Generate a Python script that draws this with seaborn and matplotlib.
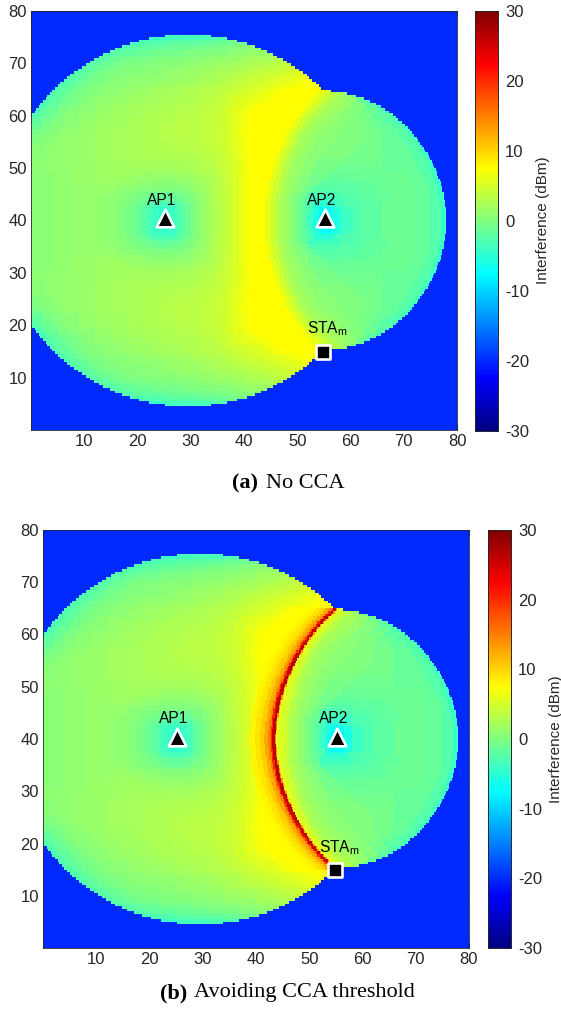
"""Interference maps for the no-CCA and CCA-threshold cases, two stacked heatmaps."""

import numpy as np
import matplotlib
matplotlib.use('Agg')
import matplotlib.pyplot as plt
from matplotlib.colors import LinearSegmentedColormap
import seaborn as sns

sns.set_style('white')
plt.rcParams['font.family'] = ['Liberation Sans', 'DejaVu Sans']
plt.rcParams['mathtext.fontset'] = 'custom'
plt.rcParams['mathtext.rm'] = 'Liberation Sans'

# Levels, one string per row, going away from y=40.
# Every entry is end_x:level in dBm, a level holds until its end_x.
# The map is the same above and below y=40.
ROWS_NO_CCA = [
    "4:0.7 8:1 12:1.2 14:1.1 16:0.8 17.5:0.3 19:-0.3 20:-1 21:-1.7 22:-2.5 23:-3.3 24:-4.2 26:-5 27:-4.2 28:-3.3 29:-2.3 30:-1.2 31:-0.2 32:0.6 33:1.3 34:2 35:2.6 36:3.2 37:3.8 38:4.5 39:5.3 40:6.1 41:6.9 44:7.5 45:6 46:4.5 47:3 48:2 49:1 50:0 51:-1 52:-2.5 53:-4 54:-6 56.5:-8 58:-6 60:-4 62:-3 66:-2 72:-1 75:-1.5 77:-2.5 78:-4",
    "4:0.7 8:1 12:1.2 14:1.1 16:0.8 17.5:0.3 19:-0.3 20:-1 21:-1.7 22:-2.5 23:-3.3 24:-4 26:-4.5 27:-4 28:-3.2 29:-2.2 30:-1.2 31:-0.2 32:0.6 33:1.3 34:2 35:2.6 36:3.2 37:3.8 38:4.5 39:5.3 40:6.1 41:6.9 44:7.5 45:6 46:4.5 47:3 48:2 49:1 50:0 51:-1 52:-2.5 53:-3.5 54:-5.5 56.5:-7 58:-5.5 60:-3.8 62:-3 66:-2 72:-1 75:-1.5 77:-2.5 78:-4",
    "4:0.7 8:1 12:1.2 14:1.1 16:0.8 18:0.3 19.5:-0.3 21:-1 22:-1.8 23:-2.6 27:-3.4 28:-2.7 29:-1.8 30:-1 31:-0.2 32:0.6 33:1.3 34:2 35:2.6 36:3.2 37:3.8 38:4.5 39:5.3 40:6.1 41:6.9 44.1:7.5 45.1:6 46:4.5 47:3 48:2 49:1 50:0 51:-1 52:-2.2 53:-3 57:-5 59:-3.5 62:-2.8 66:-2 72:-1 75:-1.5 77:-2.5 77.9:-4",
    "4:0.7 8:1 12:1.2 14:1.1 16:0.9 18:0.5 20:-0.1 22:-0.8 24:-1.5 26:-2 28:-1.5 29:-0.9 30:-0.3 31:0.3 32:0.9 33:1.5 34:2.1 35:2.7 36:3.3 37:3.8 38:4.5 39:5.3 40:6.1 41:6.9 44.1:7.5 45.1:6 46:4.5 47:3 48:2 49:1 50:0.2 51:-0.8 52:-1.8 58:-3.8 60:-3 63:-2.5 67:-1.8 72:-1 75:-1.5 76.8:-2.5 77.8:-4",
    "4:0.7 8:1 12:1.3 14:1.2 16:1 18:0.7 20:0.2 22:-0.3 24:-0.8 26:-1.2 28:-0.9 30:-0.2 31:0.4 32:1 33:1.6 34:2.2 35:2.8 36:3.3 37:3.8 38:4.5 39:5.3 40:6.1 41:6.9 44.3:7.5 45.3:6 46.3:4.5 47.3:3 48.3:2 49.3:1 50.5:0.3 52:-0.8 58:-3 61:-2.5 64:-2 68:-1.5 72:-1 75:-1.5 76.6:-2.5 77.6:-4",
    "4:0.7 8:1 12:1.3 16:1.2 19:0.9 22:0.4 25:0 28:0 30:0.4 32:1.2 33:1.8 34:2.3 35:2.9 36:3.4 37:3.9 38:4.5 39:5.3 40:6.1 41:6.9 44.4:7.5 45.4:6 46.4:4.5 47.4:3 48.4:2 49.4:1.2 51:0.3 53:-0.8 58:-2.5 62:-2.2 66:-1.7 72:-1 75:-1.5 76.4:-2.5 77.4:-4",
    "4:0.7 8:1 12:1.4 17:1.5 20:1.2 23:0.9 27:0.6 30:0.9 32:1.5 33:2 34:2.5 35:3 36:3.5 37:4 38:4.6 39:5.3 40:6.1 41:6.9 44.6:7.5 45.6:6 46.6:4.5 47.6:3 48.6:2 50:1.2 52:0.3 54:-0.8 59:-2 64:-1.8 68:-1.4 72:-1 74.5:-1.5 76.1:-2.5 77.1:-4",
    "4:0.7 8:1 12:1.5 18:1.7 22:1.4 27:1.1 30:1.3 32:1.8 34:2.4 35:3 36:3.5 37:4 38:4.6 39:5.3 40:6.1 41:6.9 44.9:7.5 45.9:6 46.9:4.5 47.9:3 48.9:2 50.3:1.2 52:0.4 55:-0.6 60:-1.6 66:-1.4 71:-1 74:-1.5 75.8:-2.5 76.8:-4",
    "4:0.7 8:1 12:1.5 15:1.8 18:2 22:1.8 27:1.6 30:1.8 32:2.2 34:2.7 35:3.1 36:3.6 37:4.1 38:4.7 39:5.3 40:6.1 41:6.9 45.2:7.5 46.2:6 47.2:4.5 48.2:3 49.2:2 50.6:1.2 52.5:0.5 56:-0.5 62:-1.2 68:-1.1 71:-1 73.5:-1.5 75.5:-2.5 76.5:-4",
    "3:0.8 6:1 9:1.2 12:1.5 15:1.8 18:2 21:2.1 24:2 27:2 30:2.2 32:2.6 34:3 35:3.4 36:3.8 37:4.2 38:4.7 39:5.3 40:6 41:6.8 45.4:7.5 46.4:6 47.4:4.5 48.4:3 49.5:2 51:1.2 53:0.5 57:-0.4 66:-1 73:-1.5 75.1:-2.5 76.1:-4",
    "3:0.8 6:1 9:1.2 12:1.5 15:1.8 18:2.1 21:2.2 24:2.2 27:2.3 30:2.5 32:2.8 34:3.2 35:3.6 36:4 37:4.4 38:4.9 39:5.5 40:6.2 41:6.9 45.7:7.5 46.7:6 47.7:4.5 48.7:3 49.8:2 51.3:1.2 53.5:0.5 58:-0.3 66:-0.8 72.5:-1.5 74.7:-2.5 75.7:-4",
    "3:0.7 6:1 9:1.3 12:1.6 15:1.9 18:2.2 21:2.4 24:2.5 27:2.6 30:2.8 32:3 34:3.3 35:3.7 36:4.1 37:4.5 38:5 39:5.6 40:6.3 41:7 46.1:7.5 47.1:6 48.1:4.5 49.1:3 50.2:2 51.7:1.3 54:0.6 59:-0.2 66:-0.8 72:-1.5 74.2:-2.5 75.2:-4",
    "3:0.7 6:1 9:1.3 12:1.6 15:1.9 18:2.2 21:2.5 24:2.7 27:2.8 30:3 32:3.2 34:3.5 35:3.8 36:4.2 37:4.6 38:5.1 39:5.7 40:6.4 41:7 46.5:7.5 47.5:6 48.5:4.5 49.5:3 50.7:2 52.2:1.3 55:0.6 60:0 66:-0.7 71.5:-1.5 73.6:-2.5 74.6:-4",
    "2:0.5 4:0.8 6:1 9:1.3 12:1.6 15:1.9 18:2.2 21:2.5 24:2.8 27:3 30:3.2 32:3.4 34:3.7 35:4 36:4.3 37:4.7 38:5.2 39:5.8 40:6.5 41:7.1 47:7.5 48:6 49:4.5 50:3 51.2:2 53:1.3 56:0.6 61:0 66:-0.7 71:-1.5 73.1:-2.5 74.1:-4",
    "2:0.2 4:0.6 6:1 9:1.3 12:1.6 15:1.9 18:2.2 21:2.5 24:2.8 27:3 30:3.2 32:3.4 34:3.7 35:4 36:4.3 37:4.7 38:5.2 39:5.8 40:6.5 41:7.1 47.4:7.5 48.4:6 49.4:4.5 50.4:3 51.7:2 53.5:1.3 57:0.6 62:0 66:-0.7 70:-1.5 72.4:-2.5 73.4:-4",
    "2:-0.2 4:0.3 6:0.8 9:1.2 12:1.6 15:1.9 18:2.2 21:2.5 24:2.8 27:3.1 30:3.3 32:3.5 34:3.8 35:4.1 36:4.4 37:4.8 38:5.3 39:5.9 40:6.6 41:7.2 47.8:7.5 48.8:6 49.8:4.5 50.8:3 52.2:2 54:1.3 57.5:0.6 62:0 66:-0.7 69.5:-1.5 71.6:-2.5 72.6:-4",
    "2:-0.7 4:0 6:0.6 9:1.1 12:1.5 15:1.9 18:2.2 21:2.5 24:2.8 27:3.1 30:3.3 32:3.5 34:3.8 35:4.1 36:4.4 37:4.8 38:5.3 39:5.9 40:6.6 41:7.2 48.3:7.5 49.3:6 50.3:4.5 51.5:3 53:2 55:1.3 58:0.6 62:0 66:-0.7 69:-1.5 70.8:-2.5 71.8:-4",
    "2:-1.2 4:-0.4 6:0.3 9:0.9 12:1.4 15:1.8 18:2.1 21:2.5 24:2.8 27:3.1 30:3.3 32:3.5 34:3.9 36:4.4 37:4.8 38:5.3 39:5.9 40:6.5 41:7 48.9:7.5 49.9:6 51:4.5 52.2:3 53.8:2 56:1.3 59:0.6 62:0 65:-0.7 68:-1.5 69.9:-2.5 70.9:-4",
    "2:-1.8 4:-0.8 6:0 9:0.7 12:1.2 15:1.7 18:2 21:2.4 24:2.7 27:3 30:3.3 32:3.5 34:3.9 36:4.4 37:4.8 38:5.3 39:5.9 40:6.5 41:7 49.5:7.5 50.5:6 51.7:4.5 53:3 55:2 57:1.3 60:0.5 63:-0.2 66:-1 68.9:-2.5 69.9:-4",
    "1:-3 2:-2.2 4:-1.2 6:-0.3 9:0.5 12:1.1 15:1.6 18:1.9 21:2.3 24:2.6 27:2.9 30:3.2 32:3.4 34:3.8 36:4.3 37:4.7 38:5.2 39:5.8 40:6.4 41:7 50.2:7.5 51.2:6 52.5:4.5 54:3 56:2 58:1.2 61:0.4 64:-0.4 67.7:-2 68.7:-4",
    "2:-3 3:-2 5:-1 7:-0.2 9:0.3 12:0.9 15:1.4 18:1.8 21:2.2 24:2.5 27:2.8 30:3.1 32:3.3 34:3.7 36:4.2 38:5 40:5.9 42:6.9 50.9:7.5 52:6 53.5:4.5 55:3 57:2 59:1.2 62:0.3 65:-1 66.4:-2.5 67.4:-4",
    "3:-3 5:-1.8 7:-0.8 9:0 12:0.7 15:1.2 18:1.7 21:2 24:2.4 27:2.7 30:2.9 32:3.2 34:3.6 36:4.1 38:4.9 40:5.6 41:6.2 43:7 51.7:7.5 53:6 54.5:4.5 56:3 58:2 60:1.2 63:0.2 64.9:-2 65.9:-4",
    "4:-3 6:-1.8 8:-0.8 10:-0.1 12:0.5 15:1 18:1.4 21:1.8 24:2.1 27:2.5 30:2.8 32:3 35:3.5 37:4.2 39:5 41:5.7 43:6.3 45:7 52.5:7.5 54:6 55.5:4.5 57:3 59:2 61:1 63:-1 64:-3.5",
    "4.5:-3 6.5:-1.8 8.5:-0.9 10.5:-0.2 13:0.4 16:0.9 19:1.3 22:1.7 25:2 28:2.4 31:2.7 34:3.2 36:3.7 38:4.3 40:4.9 42:5.5 44:6 46:6.8 53.5:7.5 55:6 56.5:4.5 58:3 60:1.5 61.7:-1.5",
    "5.5:-3 7.5:-1.8 9.5:-0.9 11.5:-0.2 14:0.4 17:0.8 20:1.2 23:1.5 26:1.9 29:2.2 32:2.7 35:3.2 37:3.7 39:4.2 41:4.7 43:5.3 45:5.8 47:6.6 55.2:7.5 56:6 57:3.5 58.4:1",
    "6.5:-3 8.5:-1.8 10.5:-0.9 12.5:-0.2 15:0.3 18:0.7 21:1 24:1.4 27:1.7 30:2 33:2.4 36:3 38:3.5 40:4 42:4.5 44:5 46:5.5 48:6 50:6.5 54.2:7.2",
    "7.5:-3 9.5:-1.9 11.5:-1 13.5:-0.3 16:0.2 19:0.5 22:0.8 25:1.1 28:1.4 31:1.8 34:2.3 37:2.8 39:3.3 41:3.8 43:4.3 45:4.8 47:5.3 49:5.7 51:6.2 53.1:6.8",
    "8.5:-3 10.5:-2 12.5:-1 14.5:-0.4 17:0.1 20:0.4 23:0.6 26:0.9 29:1.2 32:1.6 35:2.1 38:2.6 40:3.1 42:3.5 44:3.9 46:4.3 48:4.8 50:5.2 51.9:5.7",
    "10:-3 12:-2 14:-1.1 16:-0.5 19:0 22:0.3 25:0.5 28:0.8 31:1.2 34:1.6 37:2 40:2.5 42:2.9 44:3.3 46:3.7 48:4.2 50.7:4.8",
    "11:-3 13:-2 15:-1.2 17:-0.7 20:-0.2 23:0.1 26:0.3 29:0.6 32:0.9 35:1.3 38:1.7 41:2.2 43:2.6 45:3 47:3.4 49.2:3.8",
    "13:-3 15:-2.1 17:-1.4 19:-0.9 22:-0.5 25:-0.2 28:0 31:0.3 34:0.6 37:1 40:1.4 43:1.9 45:2.3 47.7:2.7",
    "15:-3 17:-2.3 19:-1.7 22:-1.2 25:-0.8 28:-0.5 31:-0.2 34:0.1 37:0.4 40:0.8 43:1.2 45.9:1.6",
    "17:-3.2 19:-2.6 22:-2.1 25:-1.7 28:-1.3 31:-1 34:-0.6 37:-0.3 40:0.1 43.8:0.5",
    "20:-3.5 22:-3 25:-2.6 28:-2.3 31:-2 34:-1.7 37:-1.3 41.2:-0.9",
    "25:-4 28:-3.7 31:-3.4 34:-3.2 37.9:-3",
]

# outline of the covered area, every half unit away from y=40 (0.25, 0.75, ...)
LEFT_EDGE = [0] * 40 + [
    0.34, 0.7, 1.06, 1.44, 1.84, 2.25, 2.67, 3.11, 3.57, 4.05, 4.55, 5.06, 5.6, 6.16, 6.75, 7.36,
    8.0, 8.68, 9.38, 10.13, 10.92, 11.76, 12.66, 13.62, 14.66, 15.8, 17.06, 18.5, 20.17, 22.24, 25.3]
RIGHT_EDGE = [
    78, 78, 78, 77.9, 77.9, 77.85, 77.8, 77.7, 77.6, 77.55, 77.45, 77.3, 77.2, 77.05, 76.9, 76.75,
    76.55, 76.35, 76.15, 75.95, 75.75, 75.5, 75.2, 74.95, 74.7, 74.4, 74.1, 73.8, 73.45, 73.1, 72.8,
    72.4, 72, 71.55, 71.15, 70.7, 70.2, 69.65, 69.1, 68.5, 67.9, 67.2, 66.5, 65.65, 64.7, 63.7, 62.5,
    61, 59.3, 56.3, 54.45, 53.94, 53.4, 52.84, 52.25, 51.64, 51, 50.32, 49.62, 48.87, 48.08, 47.24,
    46.34, 45.38, 44.34, 43.2, 41.94, 40.5, 38.83, 36.76, 33.7]

# crest of the ridge in panel (b), same half unit steps
RIDGE_X = [
    43.3, 43.3, 43.35, 43.4, 43.45, 43.5, 43.55, 43.6, 43.7, 43.75, 43.85, 43.95, 44.05, 44.15, 44.3,
    44.4, 44.55, 44.7, 44.85, 45, 45.15, 45.35, 45.55, 45.75, 45.95, 46.15, 46.4, 46.6, 46.85, 47.1,
    47.35, 47.6, 47.9, 48.2, 48.5, 48.8, 49.1, 49.45, 49.8, 50.15, 50.55, 50.9, 51.3, 51.75, 52.2,
    52.65, 53.15, 53.65, 54.2, 54.8]
RIDGE_START = -4.5
RIDGE_ENDS = [-3.5, -2.5, -1.7, -1, -0.6, -0.3, 0.3, 0.5, 1.5]
RIDGE_LEVELS = [8, 9, 10.5, 12.5, 15, 20, 26, 14, 5.5]

BACKGROUND = -20
CELLS_PER_UNIT = 4
ROWS_PER_UNIT = 2
AXIS_MAX = 80

AXIS_TICKS = [10, 20, 30, 40, 50, 60, 70, 80]
CBAR_TICKS = [-30, -20, -10, 0, 10, 20, 30]

AP_X = [25.2, 55.2]
AP_Y = [40.4, 40.4]
AP_NAMES = ['AP1', 'AP2']
STA_X = [54.8]
STA_Y = [14.9]
STA_NAME = 'STA$_{\\mathrm{m}}$'

W, H = 561, 1010

# the reference uses MATLAB's jet, matplotlib's reaches yellow later
MATLAB_JET = LinearSegmentedColormap.from_list('matlab_jet', [
    (0.0, (0, 0, 0.5)), (0.125, (0, 0, 1)), (0.375, (0, 1, 1)),
    (0.625, (1, 1, 0)), (0.875, (1, 0, 0)), (1.0, (0.5, 0, 0))], N=256)


def half_grid(with_ridge):
    n_rows = AXIS_MAX // 2 * ROWS_PER_UNIT
    half = np.full((n_rows, AXIS_MAX * CELLS_PER_UNIT), float(BACKGROUND))
    for k, (left, right) in enumerate(zip(LEFT_EDGE, RIGHT_EDGE)):
        # the level table has one row per unit, take the one just inside this row
        row = ROWS_NO_CCA[max(0, k // 2 - (k % 2 == 0))]
        start = 0
        for part in row.split():
            end, level = part.split(':')
            stop = int(round(float(end) * CELLS_PER_UNIT))
            half[k, start:stop] = float(level)
            start = stop
        if with_ridge and k < len(RIDGE_X):
            start = int(round((RIDGE_X[k] + RIDGE_START) * CELLS_PER_UNIT))
            for end, level in zip(RIDGE_ENDS, RIDGE_LEVELS):
                stop = int(round((RIDGE_X[k] + end) * CELLS_PER_UNIT))
                half[k, start:stop] = level
                start = stop
        half[k, :int(round(left * CELLS_PER_UNIT))] = BACKGROUND
        half[k, int(round(right * CELLS_PER_UNIT)):] = BACKGROUND
    return half


def full_grid(with_ridge):
    half = half_grid(with_ridge)
    return np.vstack([half[::-1], half])


def px_axes(fig, left, top, right, bottom):
    return fig.add_axes([left / W, 1 - bottom / H, (right - left) / W, (bottom - top) / H])


def draw_panel(fig, grid, box, cbar_box, label_x):
    ax = px_axes(fig, *box)
    cax = px_axes(fig, *cbar_box)
    sns.heatmap(grid, cmap=MATLAB_JET, vmin=-30, vmax=30, ax=ax, cbar_ax=cax,
                xticklabels=False, yticklabels=False, rasterized=True)

    ax.set_xticks([t * CELLS_PER_UNIT for t in AXIS_TICKS])
    ax.set_xticklabels(AXIS_TICKS, rotation=0)
    ax.set_yticks([(AXIS_MAX - t) * ROWS_PER_UNIT for t in AXIS_TICKS])
    ax.set_yticklabels(AXIS_TICKS, rotation=0)
    ax.tick_params(direction='in', length=4, width=0.6, color='#262626',
                   labelcolor='#262626', labelsize=12, pad=3,
                   top=True, right=True, bottom=True, left=True)
    for spine in ax.spines.values():
        spine.set_visible(True)
        spine.set_linewidth(0.6)
        spine.set_color('#262626')

    # markers, placed through the cell coordinates of the heatmap
    ax.scatter([x * CELLS_PER_UNIT for x in AP_X], [(AXIS_MAX - y) * ROWS_PER_UNIT for y in AP_Y],
               marker='^', s=160, color='black', edgecolor='white', linewidth=1.9, zorder=5)
    ax.scatter([x * CELLS_PER_UNIT for x in STA_X], [(AXIS_MAX - y) * ROWS_PER_UNIT for y in STA_Y],
               marker='s', s=95, color='black', edgecolor='white', linewidth=1.9, zorder=5)
    for x, y, name in zip(AP_X, AP_Y, AP_NAMES):
        ax.text((x - 0.6) * CELLS_PER_UNIT, (AXIS_MAX - y - 3.5) * ROWS_PER_UNIT, name,
                ha='center', va='center', fontsize=11.2, color='black')
    ax.text((STA_X[0] + 0.8) * CELLS_PER_UNIT, (AXIS_MAX - STA_Y[0] - 4.4) * ROWS_PER_UNIT, STA_NAME,
            ha='center', va='center', fontsize=11.2, color='black')

    cax.set_yticks(CBAR_TICKS)
    cax.set_yticklabels(CBAR_TICKS)
    cax.tick_params(direction='in', length=4, width=0.6, color='#262626',
                    labelcolor='#262626', labelsize=12, pad=5)
    for spine in cax.spines.values():
        spine.set_visible(True)
        spine.set_linewidth(0.6)
        spine.set_color('#262626')
    fig.text(label_x / W, 1 - (box[1] + box[3]) / 2 / H, 'Interference (dBm)', rotation=90,
             ha='center', va='center', fontsize=11, color='#262626')


def caption(fig, x_bold, x_rest, y, bold, rest):
    fig.text(x_bold / W, 1 - y / H, bold, family='Liberation Serif', fontweight='bold',
             fontsize=16, va='center', color='black')
    fig.text(x_rest / W, 1 - y / H, rest, family='Liberation Serif', fontsize=16,
             va='center', color='black')


fig = plt.figure(figsize=(W / 100, H / 100), dpi=100, facecolor='white')

draw_panel(fig, full_grid(False), (31, 11, 457, 430), (475, 11, 498, 431), 543)
draw_panel(fig, full_grid(True), (43, 530, 469, 948), (488, 530, 511, 948), 556)

caption(fig, 232, 266, 483, '(a)', 'No CCA')
caption(fig, 160, 194, 993, '(b)', 'Avoiding CCA threshold')

fig.savefig('out.png', dpi=100)
